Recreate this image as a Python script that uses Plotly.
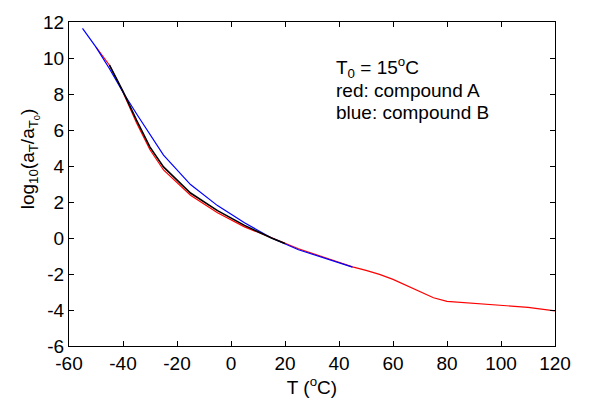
import plotly.graph_objects as go

# compound A (red)
red_T = [-50, -45, -40, -35, -30, -25, -15, -5, 5, 15, 25, 35, 45, 50, 55, 60, 65, 70, 75, 80, 90, 100, 110, 120]
red_y = [10.6, 9.6, 8.1, 6.4, 4.9, 3.78, 2.38, 1.4, 0.62, 0.0, -0.6, -1.1, -1.6, -1.8, -2.02, -2.3, -2.65, -3.0, -3.32, -3.52, -3.62, -3.72, -3.85, -4.05]

# compound B (blue)
blue_T = [-55, -50, -45, -40, -35, -30, -25, -15, -5, 5, 15, 25, 35, 45]
blue_y = [11.65, 10.6, 9.4, 8.1, 6.9, 5.75, 4.6, 2.97, 1.8, 0.85, 0.0, -0.65, -1.15, -1.62]

# fit (black)
black_T = [-45, -40, -35, -30, -25, -15, -5, 5, 15, 20]
black_y = [9.6, 8.15, 6.55, 5.05, 3.95, 2.5, 1.52, 0.7, 0.0, -0.3]

x_ticks = [-60, -40, -20, 0, 20, 40, 60, 80, 100, 120]
y_ticks = [-6, -4, -2, 0, 2, 4, 6, 8, 10, 12]

notes = ["T<sub>0</sub> = 15<sup>o</sup>C", "red: compound A", "blue: compound B"]
note_y = [9.5, 8.22, 6.97]

font = "Liberation Sans, Arial, sans-serif"
FS = 19

fig = go.Figure()
fig.add_trace(go.Scatter(x=red_T, y=red_y, mode="lines", line=dict(color="#ff0000", width=1.2)))
fig.add_trace(go.Scatter(x=blue_T, y=blue_y, mode="lines", line=dict(color="#0000ff", width=1.2)))
fig.add_trace(go.Scatter(x=black_T, y=black_y, mode="lines", line=dict(color="#000000", width=1.6)))

axis_common = dict(
    showgrid=False, zeroline=False, showline=True, linecolor="black", linewidth=1,
    mirror="ticks", ticks="inside", ticklen=5, tickcolor="black", tickwidth=1,
    tickfont=dict(family=font, size=FS, color="black"),
)
fig.update_xaxes(range=[-60, 120], tickvals=x_ticks, ticktext=[str(v) for v in x_ticks],
                 title=dict(text="T (<sup>o</sup>C)", font=dict(family=font, size=FS, color="black"), standoff=4),
                 **axis_common)
fig.update_yaxes(range=[-6, 12], tickvals=y_ticks, ticktext=[str(v) for v in y_ticks],
                 **axis_common)

# y-axis title as rotated annotation
fig.add_annotation(x=-0.0804, y=0.579, xref="paper", yref="paper", xanchor="center", yanchor="middle",
                   showarrow=False, textangle=-90,
                   text="log<sub>10</sub>(a<sub>T</sub>/a<sub>T<sub>0</sub></sub>)",
                   font=dict(family=font, size=FS, color="black"))

for txt, yy in zip(notes, note_y):
    fig.add_annotation(x=38, y=yy, xref="x", yref="y", xanchor="left", yanchor="middle",
                       showarrow=False, align="left", text=txt,
                       font=dict(family=font, size=FS, color="black"))

fig.update_layout(
    width=590, height=405, showlegend=False,
    plot_bgcolor="white", paper_bgcolor="white",
    margin=dict(l=69, r=35, t=16, b=59),
)
fig.write_html("out.html")
